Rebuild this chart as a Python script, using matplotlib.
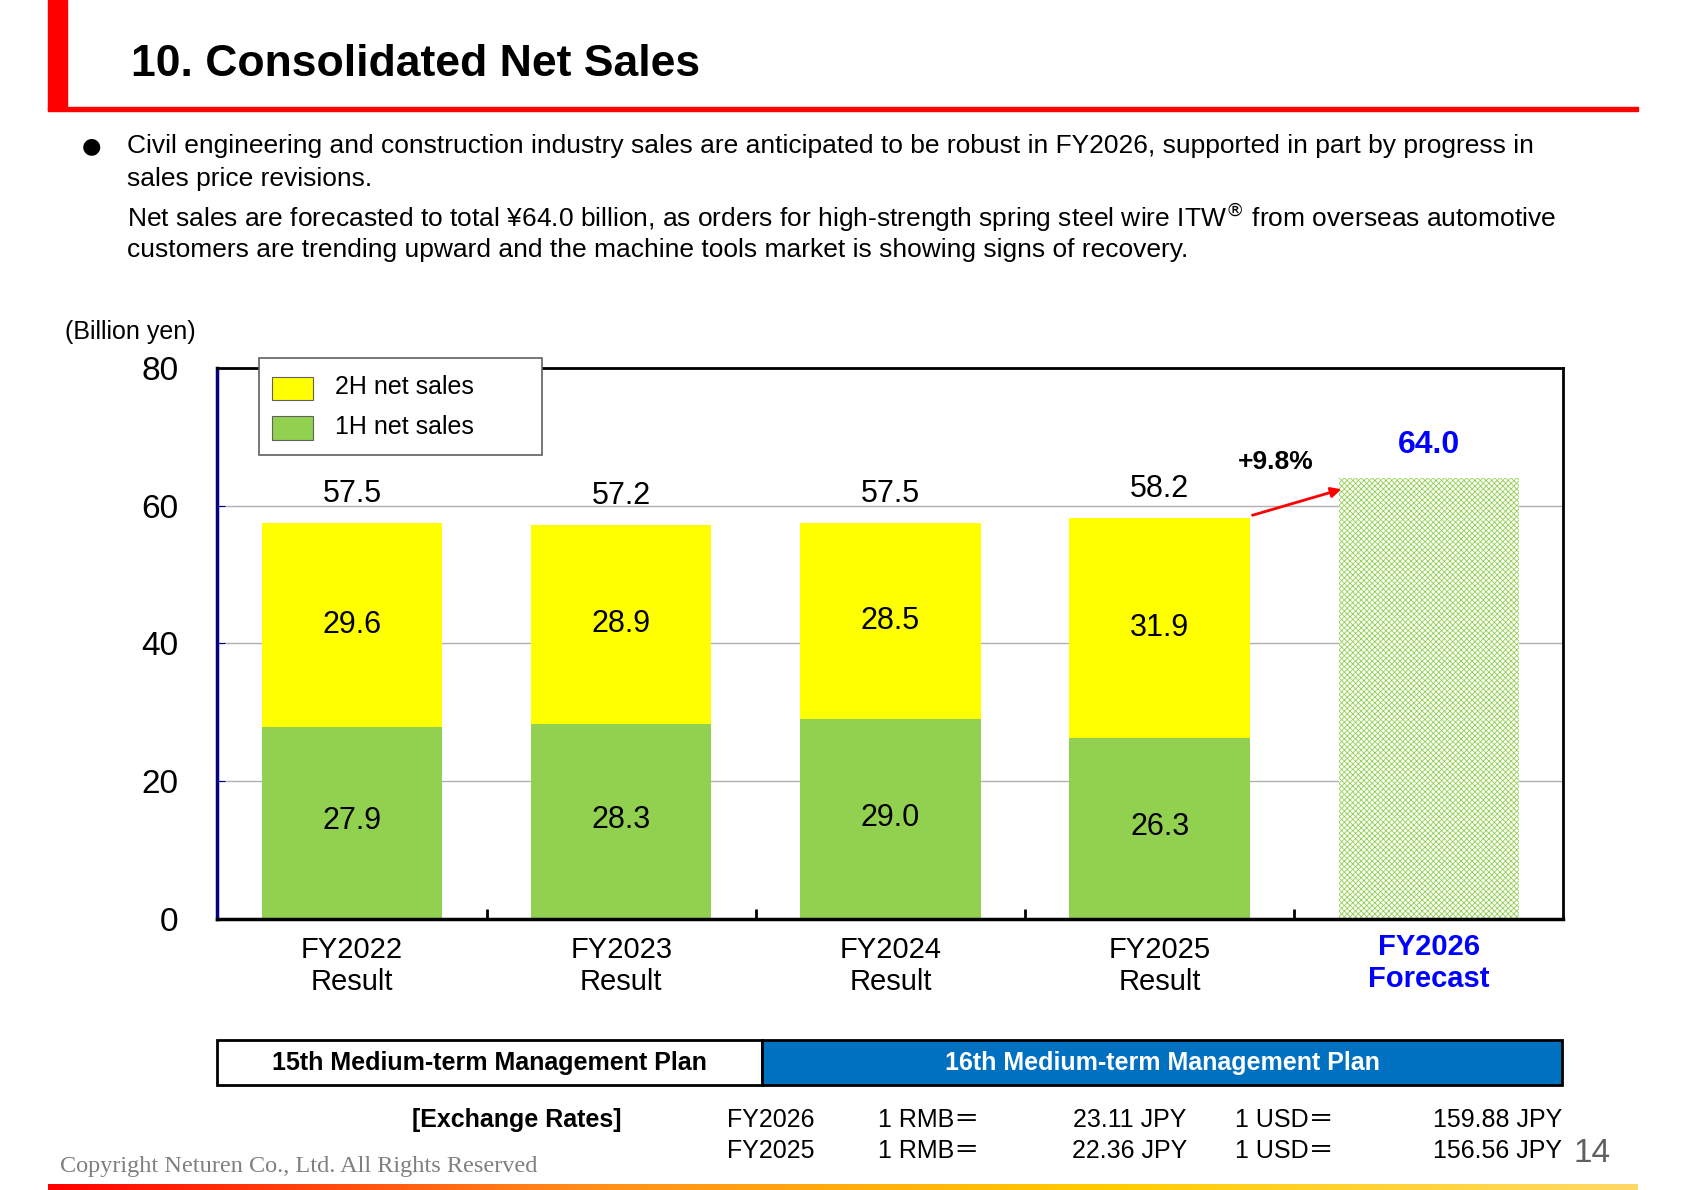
import numpy as np
import matplotlib.pyplot as plt
from matplotlib.patches import Rectangle
from matplotlib.colors import LinearSegmentedColormap

categories = ['FY2022\nResult', 'FY2023\nResult', 'FY2024\nResult', 'FY2025\nResult', 'FY2026\nForecast']
first_half = [27.9, 28.3, 29.0, 26.3]
second_half = [29.6, 28.9, 28.5, 31.9]
totals = [57.5, 57.2, 57.5, 58.2]
forecast = 64.0

W, H = 1565.0, 1106.0
def fx(x): return x / W
def fy(y): return 1 - y / H

plt.rcParams['font.family'] = ['Liberation Sans', 'DejaVu Sans']
plt.rcParams['hatch.linewidth'] = 0.6
fig = plt.figure(figsize=(16.84, 11.9), dpi=100)
eq_font = ['Liberation Sans', 'Noto Sans CJK JP', 'DejaVu Sans']

# header
fig.patches.append(Rectangle((fx(45), fy(102)), fx(17), 102 / H, transform=fig.transFigure, color='#ff0000'))
fig.patches.append(Rectangle((fx(45), fy(103)), fx(1477), 4 / H, transform=fig.transFigure, color='#ff0000'))
fig.text(fx(122), fy(60), '10. Consolidated Net Sales', fontsize=32, fontweight='bold', va='center')

body = 19
fig.text(fx(76), fy(136), '●', fontsize=16, va='center', family=['DejaVu Sans'])
fig.text(fx(118), fy(136), 'Civil engineering and construction industry sales are anticipated to be robust in FY2026, supported in part by progress in',
         fontsize=body, va='center')
fig.text(fx(118), fy(166), 'sales price revisions.', fontsize=body, va='center')
fig.text(fx(118), fy(202), 'Net sales are forecasted to total ¥64.0 billion, as orders for high-strength spring steel wire ITW$^{®}$ from overseas automotive',
         fontsize=body, va='center')
fig.text(fx(118), fy(232), 'customers are trending upward and the machine tools market is showing signs of recovery.', fontsize=body, va='center')

# chart
ax = fig.add_axes([fx(202), fy(854), fx(1453) - fx(202), (854 - 342) / H])
x = np.arange(len(categories))
w = 0.67
ax.bar(x[:4], first_half, w, color='#92d050', zorder=2)
ax.bar(x[:4], second_half, w, bottom=first_half, color='#ffff00', zorder=2)
ax.bar(x[4], forecast, w, color='white', edgecolor='#92d050', hatch='//////\\\\\\\\\\\\', linewidth=0, zorder=2)

num = 22
for i in range(4):
    ax.text(x[i], first_half[i] / 2 + 0.2, f'{first_half[i]:.1f}', ha='center', va='center', fontsize=num)
    ax.text(x[i], first_half[i] + second_half[i] / 2, f'{second_half[i]:.1f}', ha='center', va='center', fontsize=num)
    ax.text(x[i], totals[i] + 2.0, f'{totals[i]:.1f}', ha='center', va='bottom', fontsize=num)
ax.text(x[4], forecast + 2.6, f'{forecast:.1f}', ha='center', va='bottom', fontsize=23, fontweight='bold', color='#0000ff')
ax.annotate('', xy=(x[4] - w / 2 + 0.02, 62.5), xytext=(x[3] + w / 2, 58.5),
            arrowprops=dict(arrowstyle='-|>', color='#ff0000', lw=2, mutation_scale=15))
ax.text(3.43, 66.3, '+9.8%', ha='center', va='center', fontsize=19, fontweight='bold')

ax.set_xlim(-0.5, 4.5)
ax.set_ylim(0, 80)
ax.set_yticks([0, 20, 40, 60, 80])
ax.tick_params(axis='y', labelsize=24, direction='in', length=6, color='#000080', pad=28)
for lbl in ax.get_yticklabels():
    lbl.set_horizontalalignment('right')
ax.yaxis.grid(True, color='#b0b0b0', lw=1, zorder=0)
ax.set_xticks(np.arange(0.5, 4, 1))
ax.set_xticklabels([])
ax.tick_params(axis='x', direction='in', length=7, width=2)
for i, c in enumerate(categories):
    if i < 4:
        ax.text(x[i], -2.5, c, ha='center', va='top', fontsize=21, linespacing=1.2)
    else:
        ax.text(x[i], -2.0, c, ha='center', va='top', fontsize=21, fontweight='bold', color='#0000ff', linespacing=1.2)
for s in ['top', 'right']:
    ax.spines[s].set_linewidth(2)
ax.spines['bottom'].set_linewidth(2.5)
ax.spines['left'].set_color('#000080')
ax.spines['left'].set_linewidth(2.5)
fig.text(fx(60), fy(309), '(Billion yen)', fontsize=18, va='center')

# legend box
fig.patches.append(Rectangle((fx(241), fy(423)), fx(263), 90 / H, transform=fig.transFigure,
                             facecolor='white', edgecolor='#606060', lw=1.2, zorder=5))
fig.patches.append(Rectangle((fx(253), fy(372)), fx(38), 22 / H, transform=fig.transFigure,
                             facecolor='#ffff00', edgecolor='#606060', lw=0.8, zorder=6))
fig.patches.append(Rectangle((fx(253), fy(409)), fx(38), 22 / H, transform=fig.transFigure,
                             facecolor='#92d050', edgecolor='#606060', lw=0.8, zorder=6))
fig.text(fx(311), fy(360), '2H net sales', fontsize=18, va='center', zorder=7)
fig.text(fx(311), fy(397), '1H net sales', fontsize=18, va='center', zorder=7)

# plan boxes
fig.patches.append(Rectangle((fx(202), fy(1008)), fx(506), 41 / H, transform=fig.transFigure,
                             facecolor='white', edgecolor='black', lw=2))
fig.patches.append(Rectangle((fx(708), fy(1008)), fx(744), 41 / H, transform=fig.transFigure,
                             facecolor='#0070c0', edgecolor='black', lw=2))
fig.text(fx(455), fy(988), '15th Medium-term Management Plan', fontsize=18, fontweight='bold', ha='center', va='center')
fig.text(fx(1080), fy(988), '16th Medium-term Management Plan', fontsize=18, fontweight='bold', ha='center', va='center', color='white')

# exchange rates
fig.text(fx(480), fy(1041), '[Exchange Rates]', fontsize=18, fontweight='bold', ha='center', va='center')
rows = [('FY2026', '23.11 JPY', '159.88 JPY', 1041), ('FY2025', '22.36 JPY', '156.56 JPY', 1070)]
for fy_lbl, rmb, usd, yy in rows:
    fig.text(fx(716), fy(yy), fy_lbl, fontsize=18, ha='center', va='center')
    fig.text(fx(816), fy(yy), '1 RMB＝', fontsize=18, va='center', family=eq_font)
    fig.text(fx(1103), fy(yy), rmb, fontsize=18, ha='right', va='center')
    fig.text(fx(1148), fy(yy), '1 USD＝', fontsize=18, va='center', family=eq_font)
    fig.text(fx(1452), fy(yy), usd, fontsize=18, ha='right', va='center')
fig.text(fx(1462), fy(1072), '14', fontsize=24, va='center', color='#606060')
fig.text(fx(56), fy(1084), 'Copyright Neturen Co., Ltd. All Rights Reserved', fontsize=17.5, va='center',
         color='#808080', family=['Liberation Serif', 'DejaVu Serif'])

# bottom gradient line
gax = fig.add_axes([fx(45), fy(1107), fx(1477), 7 / H])
cmap = LinearSegmentedColormap.from_list('g', ['#ff0000', '#ff8c1a', '#ffcc00', '#ffd966'])
gax.imshow(np.linspace(0, 1, 256)[None, :], aspect='auto', cmap=cmap)
gax.axis('off')

fig.savefig('out.png', dpi=100)
